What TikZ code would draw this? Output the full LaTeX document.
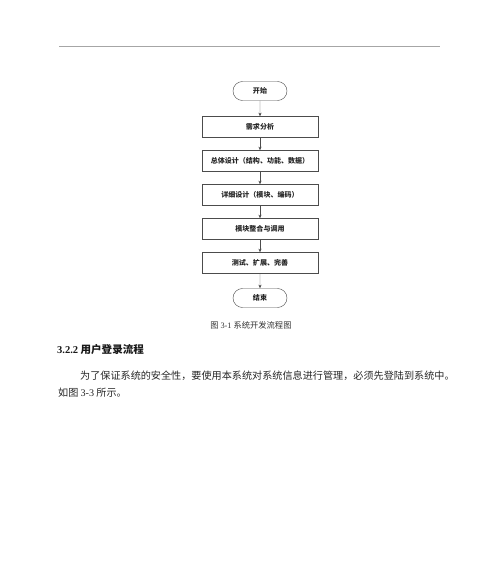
\documentclass[tikz,border=0pt]{standalone}
\usepackage{fontspec}
\usepackage{tikz}
\usetikzlibrary{arrows.meta,shapes.misc}
\setmainfont{Liberation Serif}
\newfontfamily\cjk{Noto Sans CJK SC}
\tikzset{
stepbox/.style={draw=black!70, line width=0.6pt, minimum width=58mm, minimum height=10.5mm, inner sep=0pt, text=black!85, font=\cjk\bfseries\fontsize{10}{12}\selectfont},
termbox/.style={stepbox, rounded rectangle, minimum width=27mm, minimum height=9.5mm},
flow/.style={draw=black!70, line width=0.6pt, -{Stealth[length=1.8mm,width=1.5mm]}},
bodytext/.style={anchor=west, inner sep=0pt, text=black!85, font=\cjk\fontsize{14.4}{17}\selectfont}
}
\begin{document}
\begin{tikzpicture}[x=0.5mm,y=-0.5mm]
\useasboundingbox (0,0) rectangle (500,565);
\draw[black!35, line width=1pt] (59,46)--(440,46);
\node[termbox] (start) at (260,91) {开始};
\node[stepbox] (req) at (260,127) {需求分析};
\node[stepbox] (overall) at (260,161) {总体设计（结构、功能、数据）};
\node[stepbox] (detail) at (260,195) {详细设计（模块、编码）};
\node[stepbox] (merge) at (260,229) {模块整合与调用};
\node[stepbox] (test) at (260,263) {测试、扩展、完善};
\node[termbox] (stop) at (260,298) {结束};
\draw[flow] (start)--(req);
\draw[flow] (req)--(overall);
\draw[flow] (overall)--(detail);
\draw[flow] (detail)--(merge);
\draw[flow] (merge)--(test);
\draw[flow] (test)--(stop);
\node[inner sep=0pt, text=black!80, font=\cjk\fontsize{11.8}{14}\selectfont] (caption) at (251,325) {图 {\rmfamily 3-1} 系统开发流程图};
\node[anchor=west, inner sep=0pt, text=black!90, font=\cjk\bfseries\fontsize{15}{18}\selectfont] (heading) at (57,350) {{\rmfamily 3.2.2} 用户登录流程};
\node[bodytext] (line1) at (80,376) {为了保证系统的安全性，要使用本系统对系统信息进行管理，必须先登陆到系统中。};
\node[bodytext] (line2) at (58,393) {如图 {\rmfamily 3-3} 所示。};
\end{tikzpicture}
\end{document}
